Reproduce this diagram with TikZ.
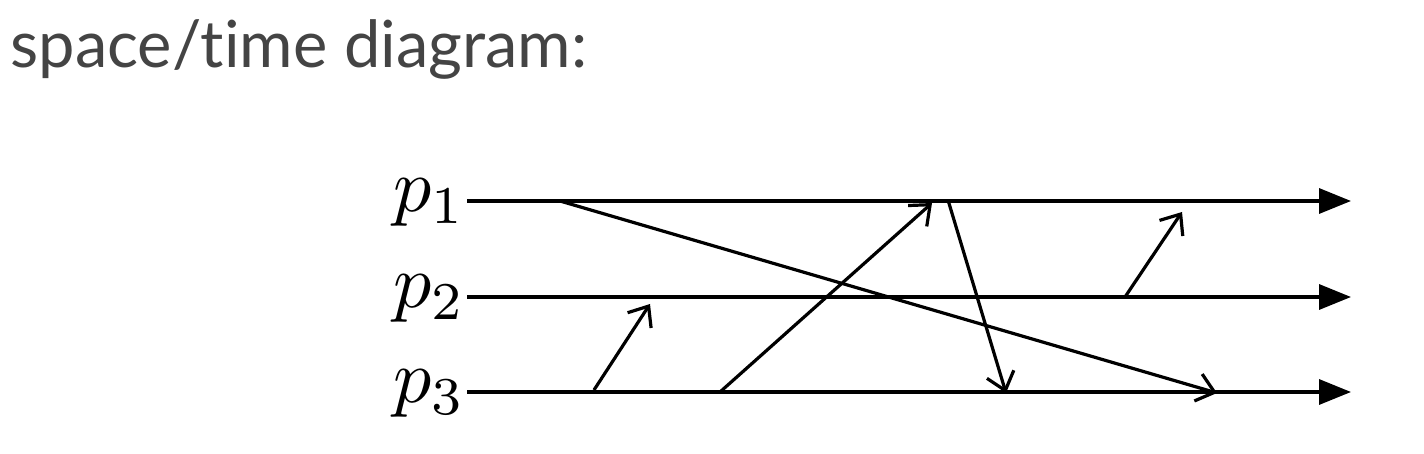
\documentclass[tikz,border=0pt]{standalone}
\usepackage{fontspec}
\setmainfont{Lato}[Ligatures=NoCommon]
\usetikzlibrary{arrows.meta}
\definecolor{titlegray}{HTML}{444444}
\begin{document}
\begin{tikzpicture}[x=0.5pt,y=-0.5pt,
  proc/.style={line width=1.7pt,-{Triangle[length=16pt,width=12.5pt]}},
  msg/.style={line width=1.6pt,-{Straight Barb[length=8.5pt,width=14pt,line width=1.6pt]}},
  lbl/.style={anchor=east,inner sep=0pt,scale=3.8}]
\useasboundingbox (0,0) rectangle (1424,454);
\node[anchor=base west,inner sep=0pt,text=titlegray,font=\fontsize{32.5}{38}\selectfont] (title) at (10,68) {space/time diagram:};
% process lines
\coordinate (s1) at (467,201); \coordinate (e1) at (1351,201);
\coordinate (s2) at (467,297); \coordinate (e2) at (1351,297);
\coordinate (s3) at (467,392); \coordinate (e3) at (1351,392);
\node[lbl] (l1) at ([yshift=-1pt]s1) {$p_1$};
\node[lbl] (l2) at ([yshift=-1pt]s2) {$p_2$};
\node[lbl] (l3) at ([yshift=-1pt]s3) {$p_3$};
\draw[proc] (s1) -- (e1);
\draw[proc] (s2) -- (e2);
\draw[proc] (s3) -- (e3);
% messages
\coordinate (a1) at (560,201); \coordinate (b1) at (1217,393);
\coordinate (a2) at (594,390); \coordinate (b2) at (650,304);
\coordinate (a3) at (720,392); \coordinate (b3) at (932,203);
\coordinate (a4) at (948,200); \coordinate (b4) at (1006,393);
\coordinate (a5) at (1125,297); \coordinate (b5) at (1182,212);
\draw[msg] (a1) -- (b1);
\draw[msg] (a2) -- (b2);
\draw[msg] (a3) -- (b3);
\draw[msg] (a4) -- (b4);
\draw[msg] (a5) -- (b5);
\end{tikzpicture}
\end{document}
